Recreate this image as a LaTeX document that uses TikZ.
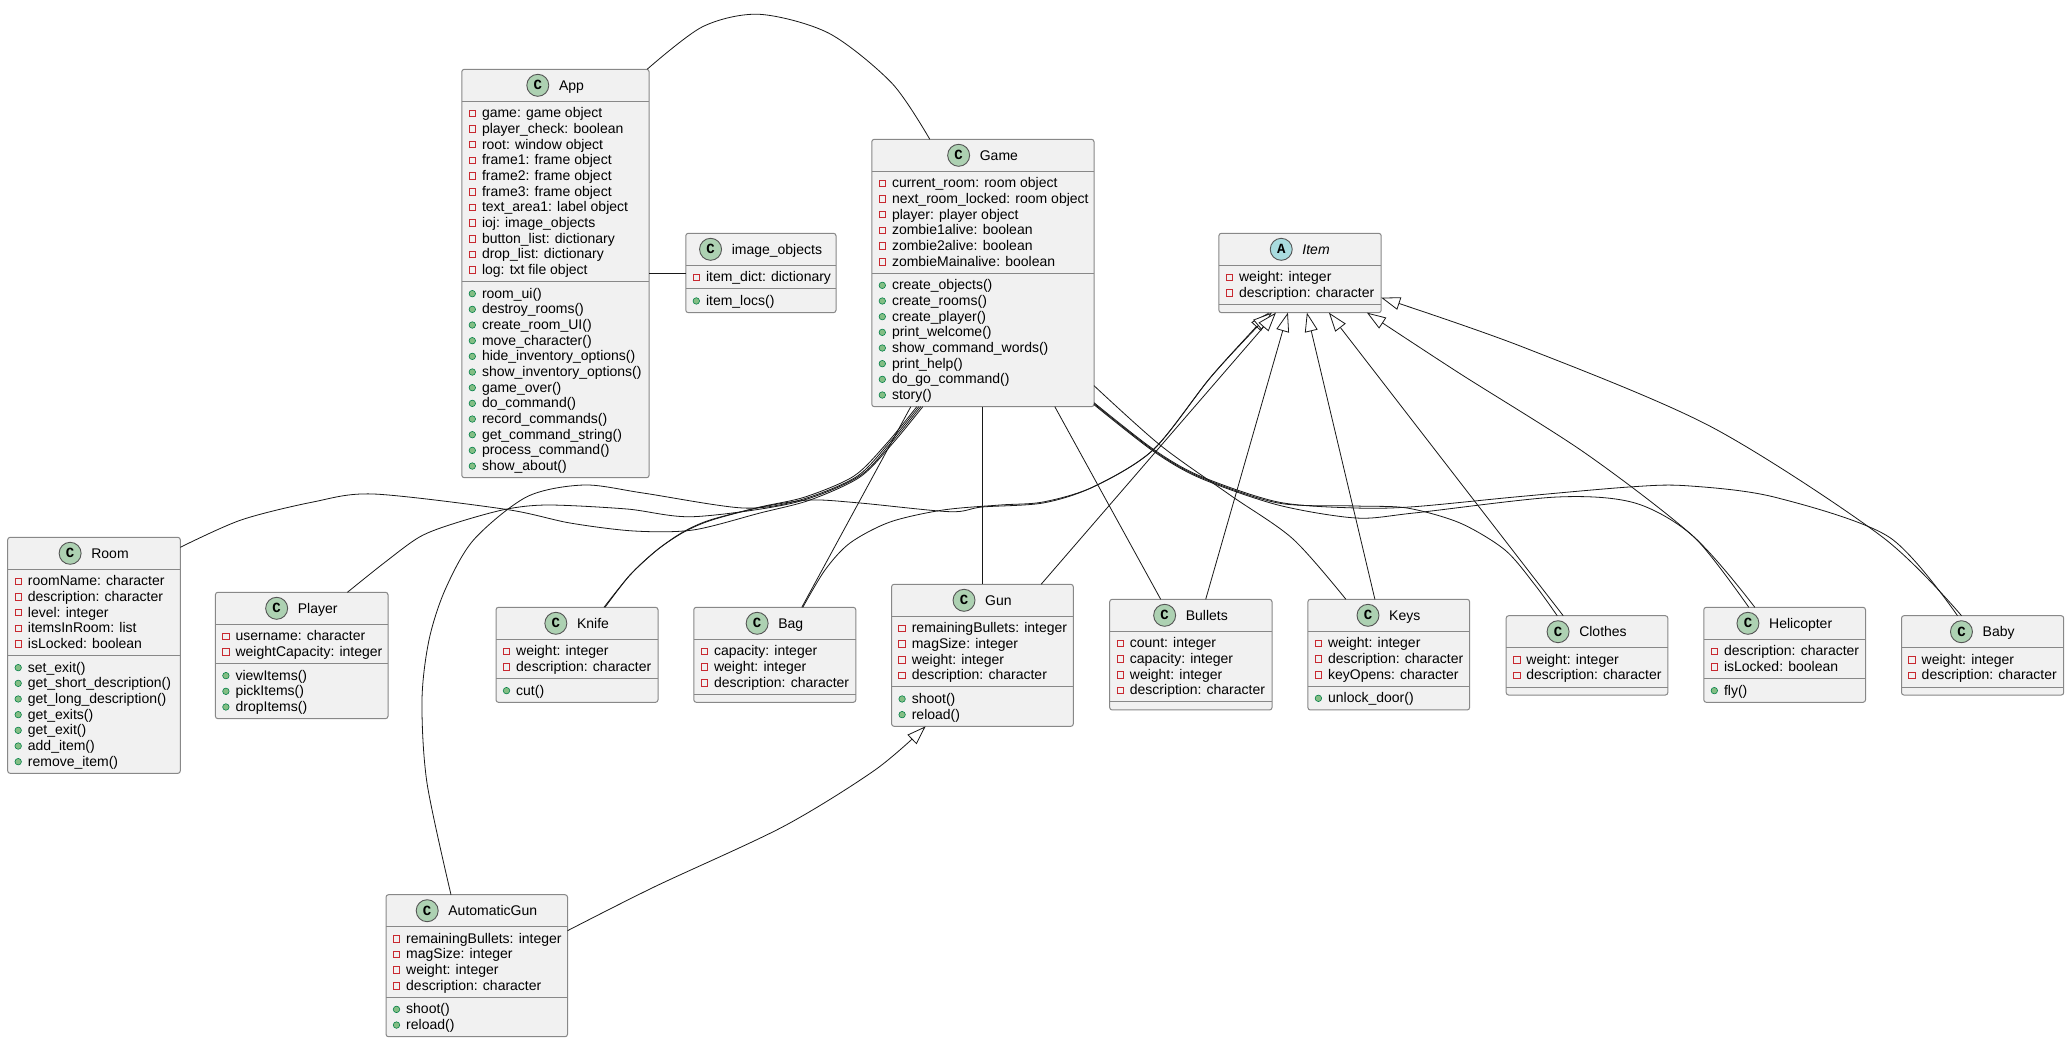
\documentclass[tikz,border=0pt]{standalone}
\usepackage{fontspec}
\setmainfont{Liberation Sans}
\newfontfamily\iconfont{Liberation Mono}
\usetikzlibrary{arrows.meta}
\definecolor{boxfill}{HTML}{F1F1F1}
\definecolor{boxline}{HTML}{888888}
\definecolor{iconline}{HTML}{555555}
\definecolor{cfill}{HTML}{ADD1B2}
\definecolor{afill}{HTML}{A9DCDF}
\definecolor{privred}{HTML}{C82930}
\definecolor{pubgreen}{HTML}{038048}
\definecolor{pubfill}{HTML}{84BE84}
\definecolor{lnk}{HTML}{181818}
\tikzset{
  classbox/.style={draw=boxline, fill=boxfill, line width=1pt, rounded corners=2.5pt, inner sep=0pt, outer sep=0pt},
  sepline/.style={draw=boxline, line width=1pt},
  iconbase/.style={circle, draw=iconline, line width=0.9pt, minimum size=22pt, inner sep=0pt, font=\iconfont\fontsize{14}{14}\selectfont\bfseries},
  iconC/.style={iconbase, fill=cfill},
  iconA/.style={iconbase, fill=afill},
  titletext/.style={inner sep=0pt, font=\fontsize{14}{16}\selectfont},
  member/.style={inner sep=0pt, font=\fontsize{14}{16}\selectfont},
  privsq/.style={draw=privred, line width=0.8pt, minimum size=6.5pt, inner sep=0pt},
  pubdot/.style={circle, draw=pubgreen, fill=pubfill, line width=0.6pt, minimum size=6.5pt, inner sep=0pt},
  assoc/.style={draw=lnk, line width=0.8pt},
  ext/.style={assoc, -{Triangle[length=19pt, width=13pt, fill=white]}},
}
% #1 name, #2 left, #3 top, #4 width, #5 icon letter, #6 title, #7 attributes, #8 methods
\newcommand\umlclass[8]{%
  \gdef\cna{0}\gdef\cnm{0}%
  \if\relax\detokenize{#7}\relax\else\foreach \itm [count=\ci] in {#7} {\xdef\cna{\ci}}\fi
  \if\relax\detokenize{#8}\relax\else\foreach \itm [count=\ci] in {#8} {\xdef\cnm{\ci}}\fi
  \pgfmathsetmacro\csepA{#3+32}%
  \pgfmathsetmacro\csepB{\csepA+8+15.67*\cna}%
  \pgfmathsetmacro\cbot{\csepB+8+15.67*\cnm}%
  \pgfmathsetmacro\chh{\cbot-#3}%
  \pgfmathsetmacro\ccx{#2+#4/2}%
  \pgfmathsetmacro\cmid{#3+16}%
  \node[classbox, minimum width=#4pt, minimum height=\chh pt, anchor=north west] (#1) at (#2,#3) {};
  \draw[sepline] (#2,\csepA) -- ++(#4,0);
  \draw[sepline] (#2,\csepB) -- ++(#4,0);
  \coordinate (#1-hc) at (\ccx,\cmid);
  \node[titletext, anchor=base] (#1-t) at (\ccx+16,\cmid+5) {#6};
  \path (#1-t.west |- #1-hc) node[icon#5, xshift=-21pt] {#5};
  \if\relax\detokenize{#7}\relax\else
  \foreach \itm [count=\ci] in {#7} {%
    \pgfmathsetmacro\cyy{\csepA+12+15.67*(\ci-1)}%
    \node[privsq] at (#2+10.5,\cyy) {};
    \node[member, anchor=base west] at (#2+20,\cyy+4.5) {\itm};
  }\fi
  \if\relax\detokenize{#8}\relax\else
  \foreach \itm [count=\ci] in {#8} {%
    \pgfmathsetmacro\cyy{\csepB+12+15.67*(\ci-1)}%
    \node[pubdot] at (#2+10.5,\cyy) {};
    \node[member, anchor=base west] at (#2+20,\cyy+4.5) {\itm};
  }\fi
}
\begin{document}
\begin{tikzpicture}[x=1pt, y=-1pt]
\useasboundingbox (0,0) rectangle (2070,1042);
\fill[white] (0,0) rectangle (2070,1042);

\umlclass{app}{461.8}{69.3}{187.3}{C}{App}
 {game: game object, player\_check: boolean, root: window object, frame1: frame object, frame2: frame object, frame3: frame object, text\_area1: label object, ioj: image\_objects, button\_list: dictionary, drop\_list: dictionary, log: txt file object}
 {room\_ui(), destroy\_rooms(), create\_room\_UI(), move\_character(), hide\_inventory\_options(), show\_inventory\_options(), game\_over(), do\_command(), record\_commands(), get\_command\_string(), process\_command(), show\_about()}
\umlclass{imgobj}{685.8}{233.3}{150.2}{C}{image\_objects}
 {item\_dict: dictionary}
 {item\_locs()}
\umlclass{game}{871.8}{139.3}{222.2}{C}{Game}
 {current\_room: room object, next\_room\_locked: room object, player: player object, zombie1alive: boolean, zombie2alive: boolean, zombieMainalive: boolean}
 {create\_objects(), create\_rooms(), create\_player(), print\_welcome(), show\_command\_words(), print\_help(), do\_go\_command(), story()}
\umlclass{item}{1218.9}{233.3}{162.3}{A}{\itshape Item}
 {weight: integer, description: character}
 {}
\umlclass{room}{7.7}{537.3}{172.6}{C}{Room}
 {roomName: character, description: character, level: integer, itemsInRoom: list, isLocked: boolean}
 {set\_exit(), get\_short\_description(), get\_long\_description(), get\_exits(), get\_exit(), add\_item(), remove\_item()}
\umlclass{player}{215.4}{592.3}{172.6}{C}{Player}
 {username: character, weightCapacity: integer}
 {viewItems(), pickItems(), dropItems()}
\umlclass{knife}{496}{607.3}{162}{C}{Knife}
 {weight: integer, description: character}
 {cut()}
\umlclass{bag}{693.8}{607.3}{162}{C}{Bag}
 {capacity: integer, weight: integer, description: character}
 {}
\umlclass{gun}{891.6}{584.3}{181.7}{C}{Gun}
 {remainingBullets: integer, magSize: integer, weight: integer, description: character}
 {shoot(), reload()}
\umlclass{bullets}{1109.7}{599.3}{162.3}{C}{Bullets}
 {count: integer, capacity: integer, weight: integer, description: character}
 {}
\umlclass{keys}{1307.9}{599.3}{161.7}{C}{Keys}
 {weight: integer, description: character, keyOpens: character}
 {unlock\_door()}
\umlclass{clothes}{1506.2}{615.7}{161.6}{C}{Clothes}
 {weight: integer, description: character}
 {}
\umlclass{helicopter}{1703.8}{607.3}{161.7}{C}{Helicopter}
 {description: character, isLocked: boolean}
 {fly()}
\umlclass{baby}{1901.5}{615.7}{162.2}{C}{Baby}
 {weight: integer, description: character}
 {}
\umlclass{autogun}{386}{894.7}{181.5}{C}{AutomaticGun}
 {remainingBullets: integer, magSize: integer, weight: integer, description: character}
 {shoot(), reload()}

% associations
\draw[assoc] plot[smooth] coordinates {([xshift=-2pt]app.north east) (702.6,26.7) (759.4,14.3) (829,33.3) (892,83.3) ([xshift=58pt]game.north west)};
\draw[assoc] (imgobj.west -| app.east) -- (imgobj.west);
\draw[assoc] plot[smooth] coordinates {([yshift=-10pt]room.north east) (241,520) (313,502) (373.5,494) (505.6,509.3) (570,523) (634,531) (693,530) (760,513) (810,500) (860,477) (893,443) ([xshift=51pt]game.south west)};
\draw[assoc] plot[smooth] coordinates {([xshift=132pt]player.north west) (384,563) (420,536.7) (455.6,523) (505.6,509.3) (548.5,505) (627,509) (693,516.7) (793,503) (858,477) (891,443) ([xshift=49pt]game.south west)};
\draw[assoc] plot[smooth] coordinates {([xshift=65pt]autogun.north west) (427,783) (422,700) (429,640) (445,590) (473.5,540) (527,496.7) (584,485) (643,493) (743,508) (800,500) (856,477) (889,443) ([xshift=47pt]game.south west)};
\draw[assoc] plot[smooth] coordinates {([xshift=108pt]knife.north west) (630,575) (657,550) (683,532) (710,520) (760,507) (805,497) (854,476) (887,443) ([xshift=45pt]game.south west)};
\draw[assoc] ([xshift=108pt]bag.north west) -- ([xshift=39pt]game.south west);
\draw[assoc] (game.south -| gun.north) -- (gun.north);
\draw[assoc] ([xshift=183pt]game.south west) -- ([xshift=51pt]bullets.north west);
\draw[assoc] plot[smooth] coordinates {([yshift=21pt]game.south east) (1160,445) (1230,495) (1293,539) ([xshift=38pt]keys.north west)};
\draw[assoc] plot[smooth] coordinates {([yshift=3pt]game.south east) (1153,450) (1200,477) (1278,503) (1356,506) (1407,508) (1460,523) (1505,550) (1535,585) ([xshift=51pt]clothes.north west)};
\draw[assoc] plot[smooth] coordinates {([yshift=2pt]game.south east) (1153,451) (1200,478) (1278,505) (1356,518) (1414,513) (1557,497) (1635,503) (1694,537) ([xshift=45pt]helicopter.north west)};
\draw[assoc] plot[smooth] coordinates {([yshift=4pt]game.south east) (1153,449) (1200,476) (1278,502) (1356,508) (1414,506.7) (1518,496.7) (1629,487) (1686,485.7) (1774,497) (1889,537) ([xshift=56pt]baby.north west)};

% generalizations
\draw[ext] plot[smooth] coordinates {([xshift=109pt]knife.north west) (630,575) (657,550) (684,532) (712,520) (762,507) (810,500) (860,503) (950,511.7) (982,507) (1043,503) (1093,487) (1153,450) (1210,378) (1255,328) ([xshift=50pt]item.south west)};
\draw[ext] plot[smooth] coordinates {([xshift=109pt]bag.north west) (825,570) (850,543) (890,522) (943,510) (1000,505) (1043,502) (1093,487) (1153,450) (1210,378) (1257,327) ([xshift=53pt]item.south west)};
\draw[ext] ([xshift=149.5pt]gun.north west) -- ([xshift=57pt]item.south west);
\draw[ext] ([xshift=96pt]bullets.north west) -- ([xshift=69pt]item.south west);
\draw[ext] ([xshift=67pt]keys.north west) -- ([xshift=88pt]item.south west);
\draw[ext] ([xshift=57pt]clothes.north west) -- ([xshift=110pt]item.south west);
\draw[ext] plot[smooth] coordinates {([xshift=51pt]helicopter.north west) (1694,537) (1585,453) (1459,373) ([xshift=148pt]item.south west)};
\draw[ext] plot[smooth] coordinates {([xshift=60pt]baby.north west) (1882,536.7) (1711,426.7) (1522,346.7) ([yshift=15pt]item.south east)};
\draw[ext] plot[smooth] coordinates {([yshift=-36pt]autogun.north east) (654.7,886.7) (783,826.7) (875,770) ([xshift=34pt]gun.south west)};
\end{tikzpicture}
\end{document}
